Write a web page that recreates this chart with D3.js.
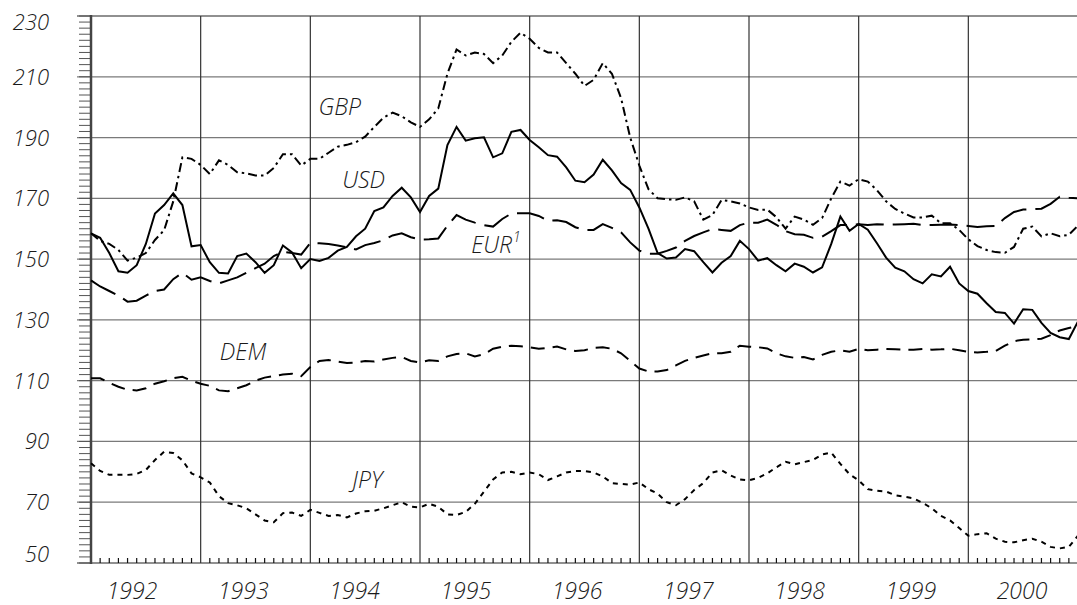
<!DOCTYPE html>
<meta charset="utf-8">
<head>
<style>
body { margin: 0; background: #fff; }
text { font-family: "Open Sans", sans-serif; font-style: italic; font-weight: 300; fill: #1a1a1a; }
.grid { stroke: #7a7a7a; stroke-width: 1.2px; }
.vgrid { stroke: #333; stroke-width: 1.2px; }
.tick { stroke: #555; stroke-width: 1px; }
.series { fill: none; stroke: #000; stroke-width: 2px; }
</style>
</head>
<body>
<svg width="1077" height="605"></svg>
<script src="https://d3js.org/d3.v7.min.js"></script>
<script>

// monthly index values, Jan 1992 .. Jan 2001
var years = [1992, 1993, 1994, 1995, 1996, 1997, 1998, 1999, 2000];
var yTicks = [50, 70, 90, 110, 130, 150, 170, 190, 210, 230];

var usd = [
  158.5,157,152,146,145.5,148,155,165,167.8,171.6,167.8,154.2,
  154.6,149,145.5,145.3,151,151.8,149,145.5,148,154.5,152.2,147,
  150,149.4,150.4,152.8,154,157.5,160,165.8,167,170.8,173.5,170.3,
  165.5,170.8,173.2,187.5,193.5,189,189.8,190.1,183.5,184.8,191.9,192.5,
  189.2,186.8,184.2,183.7,180.2,175.8,175.3,177.8,182.7,179.2,175,172.8,
  167,160,152,150.2,150.5,153.3,152.6,149,145.6,148.8,151,156,
  153.3,149.5,150.3,148,146,148.5,147.5,145.6,147.3,155,164,159.3,
  161.6,159.7,155.2,150.5,147.2,146,143.4,142,145,144.3,147.5,142,
  139.5,138.6,135.5,132.6,132.3,128.8,133.5,133.3,129,125.7,124.3,123.7,
  129.5
];
var gbp = [
  158.5,156,155,153,149.5,150.5,152,156.3,159.5,169,183.5,183,
  181,178,182.5,181,178.6,178.2,177.5,177.5,180,184.5,184.5,180.8,
  183,183,185,187,187.6,188.5,190.3,193.5,196.5,198.2,197,195,
  193.5,196,199.6,211,219,217,218,217.5,214.5,217,221.5,224.5,
  222.5,219.5,218,218,214.5,211,207,209,214.5,211,203,190,
  180.8,173,170,169.7,169.5,170.3,169,163,164.5,169.5,169,168.3,
  167,166.2,166.3,163.8,160,164,163,161.3,163.5,170,175.5,174.2,
  176.3,175.5,172.7,169,166.5,165,163.7,163.7,164.3,161.8,161.8,159.6,
  156.5,154.3,153,152.3,152.1,154,160,160.7,157.5,158.5,157.5,158,
  161
];
var eur = [
  143,141,139.5,138,136,136.3,138,139.5,140,143.4,145.5,143.2,
  144,142.8,142,143,144,145.5,147,148.5,151,152.4,152,151.5,
  155.3,155.2,155,154.5,153.9,153.2,154.6,155.3,156.2,157.8,158.5,157.2,
  156.4,156.5,156.8,161,164.5,163,162,161.2,160.7,163.2,165,165.1,
  165.1,164.2,162.6,162.8,162.2,160.5,159.6,159.6,161.5,160.3,158.8,155.5,
  152.8,151.8,151.8,152.7,153.8,156,157.6,158.8,159.9,159.6,159.3,161.2,
  162,162,163,161.3,159.2,158.2,158,157,157.4,159.2,161.2,161.2,
  161.5,161.2,161.5,161.3,161.4,161.5,161.6,161.2,161.2,161.3,161.4,161.2,
  160.9,160.6,160.8,160.9,163.5,165.5,166.3,166.4,166.6,168.2,170.5,170.2,
  170
];
var dem = [
  110.8,110.8,109.3,108,107,106.8,107.5,109,109.8,110.8,111.3,110,
  109,108.3,106.8,106.5,107.5,108.5,110,111,111.5,112,112.3,111.5,
  114.5,116.5,116.8,116.3,115.8,116,116.5,116.3,117,117.5,117.8,116.5,
  116,116.7,116.5,118,118.8,119,118,118.7,120.5,121.2,121.5,121.3,
  121,120.5,120.8,121.2,120.3,119.8,120,120.8,121,120.5,119,116.5,
  114,113,113,113.5,115,116.5,117.5,118.3,119,119,119.5,121.5,
  121.2,121,120.6,119,118,117.5,117.8,117,118.5,119.5,120,119.5,
  120.5,120,120.2,120.4,120.3,120.2,120.2,120.4,120.2,120.3,120.5,120,
  119.5,119.3,119.5,119.8,121.5,123,123.5,123.6,123.8,125,126.5,127.3,
  128
];
var jpy = [
  82.8,80.3,79,79,79,79.3,80.6,83.9,86.6,86.2,83.8,79.5,
  78.2,76.5,72,69.7,69,68,66,64,63.4,66.4,66.6,65.5,
  67.5,66.5,65.5,65.8,65,66.3,67,67.2,68,69,70,68.5,
  68.3,69.5,68.5,66,65.8,66.8,69.5,73.5,77.5,79.8,80,79.2,
  79.8,79.2,77.3,78.5,79.8,80.3,80.3,79.8,78.5,76.3,76,75.8,
  76.5,74.3,72.8,70,69,71,74,76.3,79.8,80.5,78.8,77.5,
  77.2,78,79.5,81.5,83.3,82.5,83.2,83.9,85.7,86.3,82.6,79.2,
  77.2,74.3,73.8,73.5,72.3,71.8,71.3,69.8,68,65.5,64,61.5,
  59,59.5,59.8,58,57,56.8,57.5,58,57,55.3,54.8,55.3,
  59
];

var series = [
  { name: "USD", values: usd, dash: null,         label: [27.5, 173.4] },
  { name: "GBP", values: gbp, dash: "9,4,2.5,4",  label: [24.9, 197.4] },
  { name: "EUR", values: eur, dash: "28,9",       label: [41.6, 152.0], sup: "1" },
  { name: "DEM", values: dem, dash: "14,8",       label: [14.1, 116.8] },
  { name: "JPY", values: jpy, dash: "5,5",        label: [28.6, 74.7] }
];

var svg = d3.select("svg");

var x = d3.scaleLinear().domain([0, 108]).range([91, 1078]);
var y = d3.scaleLinear().domain([50, 230]).range([563, 16]);
var xLabel = d3.scaleLinear().domain([1992, 2000]).range([132, 1022]); // year captions

// horizontal grid
svg.append("g").selectAll("line")
  .data(yTicks)
  .enter().append("line")
    .attr("class", "grid")
    .attr("x1", 77).attr("x2", 1077)
    .attr("y1", function(d) { return y(d); })
    .attr("y2", function(d) { return y(d); })
    .style("stroke", function(d) { return d == 230 || d == 50 ? "#222" : null; });

// year boundaries
svg.append("g").selectAll("line")
  .data(years.slice(1))
  .enter().append("line")
    .attr("class", "vgrid")
    .attr("x1", function(d, i) { return x((i + 1) * 12); })
    .attr("x2", function(d, i) { return x((i + 1) * 12); })
    .attr("y1", y(230)).attr("y2", y(50));

// minor ticks on the value axis
svg.append("g").selectAll("line")
  .data(d3.range(50, 231, 2))
  .enter().append("line")
    .attr("class", "tick")
    .attr("x1", 79).attr("x2", 91)
    .attr("y1", function(d) { return y(d); })
    .attr("y2", function(d) { return y(d); });

// month ticks
svg.append("g").selectAll("line")
  .data(d3.range(1, 108).filter(function(m) { return m % 12; }))
  .enter().append("line")
    .attr("stroke", "#111")
    .attr("stroke-width", 1.2)
    .attr("x1", function(d) { return x(d); })
    .attr("x2", function(d) { return x(d); })
    .attr("y1", y(50) - 5).attr("y2", y(50));

svg.append("line")
  .attr("x1", x(0)).attr("x2", x(0))
  .attr("y1", y(230) - 1).attr("y2", y(50) + 1)
  .attr("stroke", "#444").attr("stroke-width", 2.5);

// y labels
svg.append("g").selectAll("text")
  .data(yTicks)
  .enter().append("text")
    .attr("x", 49)
    .attr("y", function(d) { return y(d) + (d == 230 ? 14 : d == 50 ? -1 : 8); })
    .attr("text-anchor", "end")
    .style("font-size", "22px")
    .text(function(d) { return d; });

// year labels
svg.append("g").selectAll("text")
  .data(years)
  .enter().append("text")
    .attr("x", function(d) { return xLabel(d); })
    .attr("y", 599)
    .attr("text-anchor", "middle")
    .style("font-size", "23px")
    .text(function(d) { return d; });

var line = d3.line()
  .x(function(d, i) { return x(i); })
  .y(function(d) { return y(d); });

svg.append("g").selectAll("path")
  .data(series)
  .enter().append("path")
    .attr("class", "series")
    .attr("d", function(d) { return line(d.values); })
    .attr("stroke-dasharray", function(d) { return d.dash; });

var lab = svg.append("g").selectAll("text")
  .data(series)
  .enter().append("text")
    .attr("x", function(d) { return x(d.label[0]); })
    .attr("y", function(d) { return y(d.label[1]); })
    .style("font-size", "23px")
    .text(function(d) { return d.name; });

lab.filter(function(d) { return d.sup; })
  .append("tspan")
    .attr("dy", -11)
    .attr("dx", 1)
    .style("font-size", "14px")
    .text(function(d) { return d.sup; });

</script>
</body>
